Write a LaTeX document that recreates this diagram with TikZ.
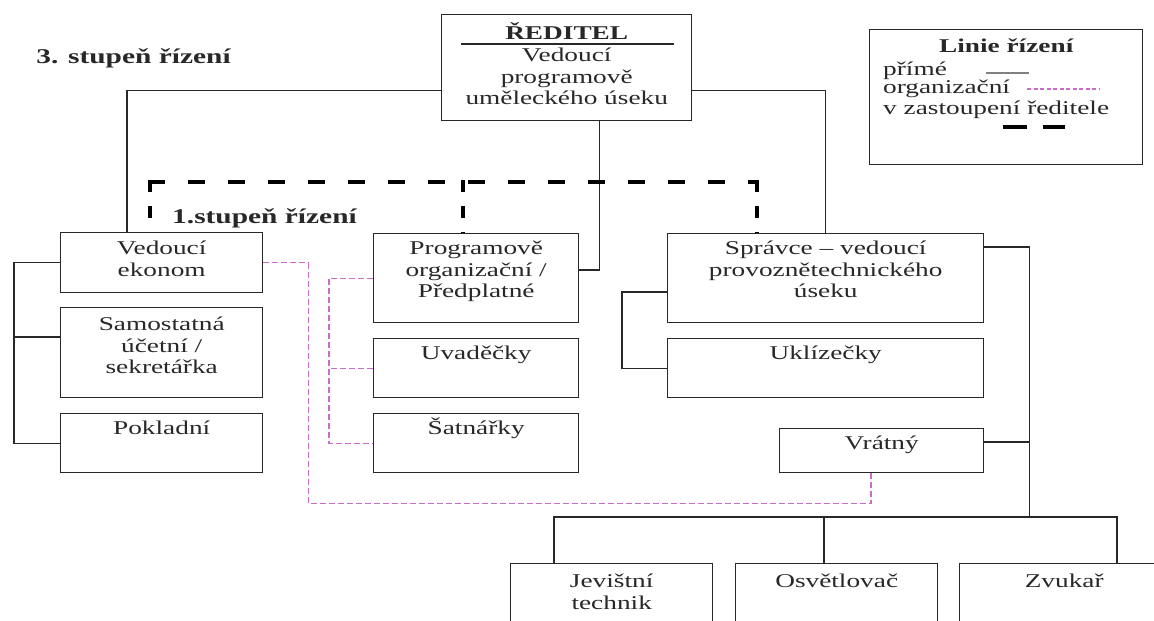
\documentclass[tikz,border=0pt]{standalone}
\usepackage{fontspec}
\setmainfont{Liberation Serif}[FakeStretch=1.4]
\usetikzlibrary{calc}
\definecolor{orgpink}{RGB}{200,110,200}
\definecolor{ink}{RGB}{40,40,40}
\newcommand{\mystrut}{\rule{0pt}{18pt}}
\begin{document}
\begin{tikzpicture}[x=1pt,y=-1pt,
  box/.style={draw=ink, line width=1.4pt, inner sep=0pt, anchor=north west},
  txt/.style={align=center, inner sep=0pt, anchor=north, text=ink, font=\fontsize{19.5}{21.5}\selectfont},
  hdr/.style={inner sep=0pt, anchor=base, text=ink, font=\bfseries\fontsize{21}{24}\selectfont},
  hdrs/.style={inner sep=0pt, anchor=base, text=ink, font=\bfseries\fontsize{19.5}{22}\selectfont},
  lt/.style={inner sep=0pt, anchor=base west, text=ink, font=\fontsize{19.5}{21.5}\selectfont},
  conn/.style={draw=ink, line width=1.3pt},
  org/.style={draw=orgpink, line width=1.2pt, dash pattern=on 6pt off 3pt},
  deph/.style={draw=black, line width=4pt, dash pattern=on 17pt off 23pt},
  depv/.style={draw=black, line width=4pt, dash pattern=on 12pt off 14pt},
]
\fill[white] (0,0) rectangle (1154,621);
\clip (0,0) rectangle (1154,621);

% boxes
\node[box, minimum width=250, minimum height=106] (dir) at (441,14) {};
\node[box, minimum width=202, minimum height=60] (ved) at (60,232) {};
\node[box, minimum width=202, minimum height=90] (sam) at (60,307) {};
\node[box, minimum width=202, minimum height=59] (pok) at (60,413) {};
\node[box, minimum width=205, minimum height=89] (prog) at (373,233) {};
\node[box, minimum width=205, minimum height=59] (uvad) at (373,338) {};
\node[box, minimum width=205, minimum height=59] (satn) at (373,413) {};
\node[box, minimum width=316, minimum height=89] (spr) at (667,233) {};
\node[box, minimum width=316, minimum height=59] (ukl) at (667,338) {};
\node[box, minimum width=204, minimum height=44] (vrat) at (779,428) {};
\node[box, minimum width=202, minimum height=80] (jev) at (510,563) {};
\node[box, minimum width=202, minimum height=80] (osv) at (735,563) {};
\node[box, minimum width=209, minimum height=80] (zvu) at (959,563) {};
\node[box, minimum width=273, minimum height=135] (leg) at (869,29) {};

% texts
\node[hdrs] (dirH) at ($(dir.north)+(0,25.5)$) {ŘEDITEL};
\draw[conn] ($(dir.north west)+(20,30)$) -- ($(dir.north east)+(-18,30)$);
\node[txt] (dirT) at ($(dir.north)+(0,29.5)$) {\mystrut Vedoucí\\programově\\uměleckého úseku};
\node[txt] (vedT) at ($(ved.north)+(0,4.5)$) {\mystrut Vedoucí\\ekonom};
\node[txt] (samT) at ($(sam.north)+(0,5.5)$) {\mystrut Samostatná\\účetní /\\sekretářka};
\node[txt] (pokT) at ($(pok.north)+(0,3.5)$) {\mystrut Pokladní};
\node[txt] (progT) at ($(prog.north)+(0,3.5)$) {\mystrut Programově\\organizační /\\Předplatné};
\node[txt] (uvadT) at ($(uvad.north)+(0,3.5)$) {\mystrut Uvaděčky};
\node[txt] (satnT) at ($(satn.north)+(0,3.5)$) {\mystrut Šatnářky};
\node[txt] (sprT) at ($(spr.north)+(0,3.5)$) {\mystrut Správce – vedoucí\\provoznětechnického\\úseku};
\node[txt] (uklT) at ($(ukl.north)+(0,3.5)$) {\mystrut Uklízečky};
\node[txt] (vratT) at ($(vrat.north)+(0,3.5)$) {\mystrut Vrátný};
\node[txt] (jevT) at ($(jev.north)+(0,6.5)$) {\mystrut Jevištní\\technik};
\node[txt] (osvT) at ($(osv.north)+(0,6.5)$) {\mystrut Osvětlovač};
\node[txt] (zvuT) at ($(zvu.north)+(0,6.5)$) {\mystrut Zvukař};

\node[hdr] (h3) at (133.5,63) {3. stupeň řízení};
\node[hdr] (h1) at (264.5,223) {1.stupeň řízení};

% legend
\node[hdrs] (legT) at ($(leg.north)+(0,23.5)$) {Linie řízení};
\node[lt] (l1) at (883,75.5) {přímé};
\node[lt] (l2) at (883,93.5) {organizační};
\node[lt] (l3) at (883,114.5) {v zastoupení ředitele};
\draw[draw=gray, line width=1.2pt] (986,73) -- (1029,73);
\draw[org, dash pattern=on 4pt off 2.5pt] (1027,89) -- (1099,89);
\draw[black, line width=3.5pt] (1003,127) -- (1027,127) (1043,127) -- (1065,127);

% direct lines
\draw[conn] ($(dir.south west)+(0,-31)$) -| ($(ved.north west)+(67,0)$);
\draw[conn] ($(dir.south east)+(0,-31)$) -| (spr.north);
\draw[conn] ($(dir.south)+(33,0)$) |- ($(prog.north east)+(0,37)$);
\draw[conn] (ved.west) -- ++(-46,0) |- (pok.west);
\draw[conn] ($(sam.north west)+(0,30)$) -- ++(-46,0);
\draw[conn] ($(spr.north west)+(0,59)$) -- ++(-45,0) |- (ukl.west);
\coordinate (busR) at ($(spr.north east)+(45,284)$);
\draw[conn] ($(spr.north east)+(0,14)$) -| (busR);
\draw[conn] ($(vrat.north east)+(0,14)$) -- ($(vrat.north east)+(45,14)$);
\draw[conn] ($(jev.north west)+(44,0)$) |- ($(zvu.north west)+(158,-46)$) -- ($(zvu.north west)+(158,0)$);
\draw[conn] ($(osv.north west)+(89,0)$) -- ++(0,-46);

% organisational lines
\draw[org] (ved.east) -- ++(45,0) |- ($(vrat.south west)+(92,30)$) -- ($(vrat.south west)+(92,0)$);
\draw[org] (prog.west) -- ++(-44,0) |- (satn.west);
\draw[org] (uvad.west) -- ++(-44,0);

% deputy lines
\coordinate (dL) at ($(ved.north west)+(90,-50)$);
\coordinate (dM) at ($(prog.north west)+(90,-51)$);
\coordinate (dR) at ($(spr.north west)+(90,-51)$);
\draw[deph] ($(dL)+(-2,0)$) -- ($(dR)+(2,0)$);
\draw[depv] ($(dL)+(0,-2)$) -- ($(ved.north west)+(90,0)$);
\draw[depv] ($(dM)+(0,-2)$) -- ($(prog.north west)+(90,0)$);
\draw[depv] ($(dR)+(0,-2)$) -- ($(spr.north west)+(90,0)$);
\end{tikzpicture}
\end{document}
